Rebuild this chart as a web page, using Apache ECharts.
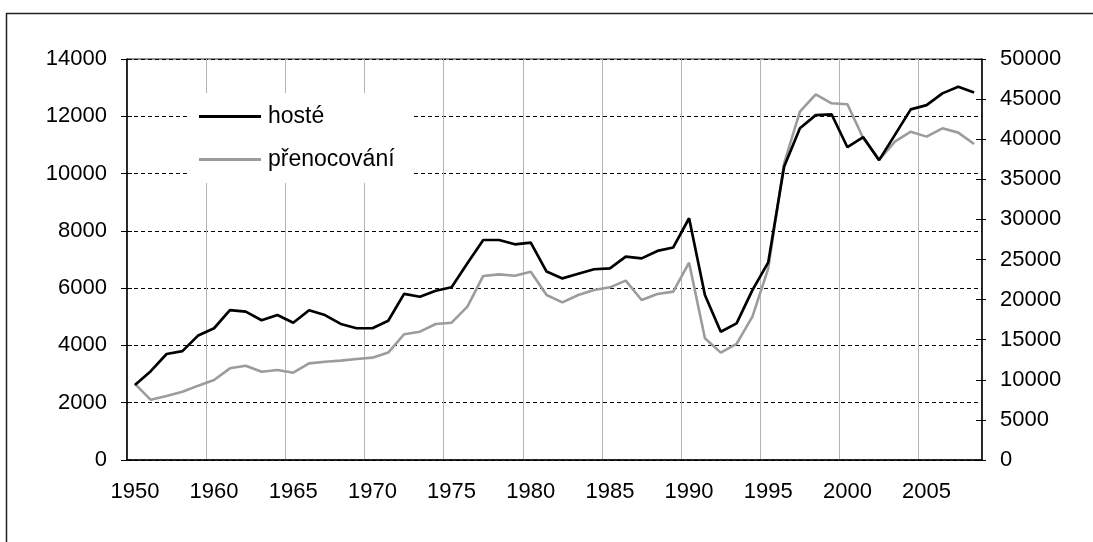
<!DOCTYPE html>
<html><head><meta charset="utf-8">
<script src="https://cdn.jsdelivr.net/npm/echarts@6/dist/echarts.min.js"></script>
<style>html,body{margin:0;padding:0;background:#fff;overflow:hidden}#c{width:1093px;height:542px}</style>
</head><body><div id="c"></div>
<script>
const categories = ['1950','1956','1957','1958','1959',
 '1960','1961','1962','1963','1964','1965','1966','1967','1968','1969',
 '1970','1971','1972','1973','1974','1975','1976','1977','1978','1979',
 '1980','1981','1982','1983','1984','1985','1986','1987','1988','1989',
 '1990','1991','1992','1993','1994','1995','1996','1997','1998','1999',
 '2000','2001','2002','2003','2004','2005','2006','2007','2008'];
const hoste = [2620,3100,3700,3800,4350,4600,5230,5180,4880,5060,4790,5230,5060,4750,4600,
 4600,4860,5800,5700,5910,6030,6870,7680,7680,7530,7590,6580,6340,6500,6660,
 6690,7100,7040,7300,7420,8440,5760,4480,4770,5930,6900,10240,11580,12040,12070,
 10920,11270,10470,11350,12240,12390,12800,13030,12830];
const prenocovani = [9500,7500,7980,8520,9270,9980,11430,11760,11010,11220,10890,12050,12260,12390,12600,
 12760,13400,15680,16000,16960,17120,19120,22950,23150,22980,23480,20580,19660,20580,21200,
 21530,22360,19950,20700,20990,24600,15170,13390,14470,17870,23900,37000,43430,45600,44480,
 44350,40110,37410,39700,40940,40320,41360,40820,39400];
const leftTicks = {min:0, max:14000, interval:2000};
const rightTicks = {min:0, max:50000, interval:5000};

const FONT = '"Liberation Sans", Arial, sans-serif';
const shown = (i) => i % 5 === 0;
const plain = (v) => String(v);
const chart = echarts.init(document.getElementById('c'));
chart.setOption({
  animation:false,
  backgroundColor:'#fff',
  graphic:[{type:'rect', shape:{x:6.5,y:13.5,width:1200,height:600}, style:{fill:'none',stroke:'#222',lineWidth:1.5}, z:-1}],
  grid:{left:127, right:111, top:59, bottom:82, show:true, borderColor:'#222', borderWidth:1, backgroundColor:'transparent'},
  legend:{
    left:189, top:93, orient:'vertical', backgroundColor:'#fff',
    padding:[12,17,12,10], itemWidth:62, itemHeight:3, itemGap:20,
    textStyle:{fontFamily:FONT, fontSize:23, color:'#000', padding:[0,0,0,2]},
    data:[{name:'hosté', icon:'rect', itemStyle:{color:'#000'}},
          {name:'přenocování', icon:'rect', itemStyle:{color:'#9c9c9c'}}]
  },
  xAxis:[{
    type:'category', data:categories, boundaryGap:true,
    axisLine:{lineStyle:{color:'#000', width:1.5}},
    axisTick:{length:7, interval:(i)=>shown(i), lineStyle:{color:'#000'}},
    axisLabel:{interval:(i)=>shown(i), margin:21, fontFamily:FONT, fontSize:22, color:'#000'},
    splitLine:{show:true, interval:(i)=>shown(i), lineStyle:{color:'#b4b4b4', width:1}}
  },{
    type:'category', data:categories, boundaryGap:true, position:'bottom',
    axisLine:{show:false}, axisLabel:{show:false}, splitLine:{show:false},
    axisTick:{inside:true, length:7, interval:(i)=>shown(i), lineStyle:{color:'#000'}}
  }],
  yAxis:[{
    type:'value', position:'left', min:leftTicks.min, max:leftTicks.max, interval:leftTicks.interval,
    axisLine:{show:true, lineStyle:{color:'#000', width:1.5}},
    axisTick:{show:true, length:6, lineStyle:{color:'#000'}},
    axisLabel:{margin:20, fontFamily:FONT, fontSize:22, color:'#000', formatter:plain},
    splitLine:{show:true, lineStyle:{color:'#000', type:[4,3], width:1}}
  },{
    type:'value', position:'right', min:rightTicks.min, max:rightTicks.max, interval:rightTicks.interval,
    axisLine:{show:true, lineStyle:{color:'#000', width:1.5}},
    axisTick:{show:true, length:4, lineStyle:{color:'#000'}},
    axisLabel:{margin:18, fontFamily:FONT, fontSize:22, color:'#000', formatter:plain},
    splitLine:{show:false}
  },{
    type:'value', position:'right', min:rightTicks.min, max:rightTicks.max, interval:rightTicks.interval,
    axisLine:{show:false}, axisLabel:{show:false}, splitLine:{show:false},
    axisTick:{show:true, inside:true, length:6, lineStyle:{color:'#000'}}
  },{
    type:'value', position:'left', min:leftTicks.min, max:leftTicks.max, interval:leftTicks.interval,
    axisLine:{show:false}, axisLabel:{show:false}, splitLine:{show:false},
    axisTick:{show:true, inside:true, length:5, lineStyle:{color:'#000'}}
  }],
  series:[{
    name:'hosté', type:'line', data:hoste, xAxisIndex:0, yAxisIndex:0,
    symbol:'none', color:'#000', lineStyle:{color:'#000', width:2.7}, z:3
  },{
    name:'přenocování', type:'line', data:prenocovani, xAxisIndex:0, yAxisIndex:1,
    symbol:'none', color:'#9c9c9c', lineStyle:{color:'#9c9c9c', width:2.6}, z:2
  }]
});
</script></body></html>
